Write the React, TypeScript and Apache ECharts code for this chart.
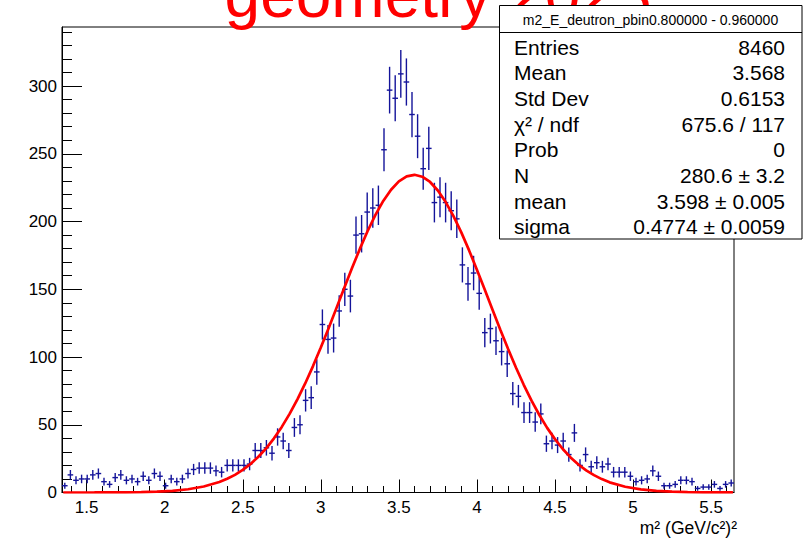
import React, { useEffect, useRef } from "react";
import * as echarts from "echarts";

// Histogram definition (120 bins)
const X_MIN = 1.342;
const X_MAX = 5.647;
const Y_MAX = 343.6;
const COUNTS = [
  5, 13, 9, 10, 10, 13, 14, 8, 6, 11,
  13, 9, 10, 8, 12, 9, 14, 12, 5, 10,
  8, 10, 14, 17, 18, 18, 18, 16, 15, 20,
  20, 20, 20, 21, 31, 31, 33, 29, 41, 38,
  31, 48, 50, 68, 70, 89, 124, 113, 114, 134,
  150, 145, 190, 191, 207, 210, 212, 253, 297, 291,
  309, 303, 279, 263, 239, 254, 214, 218, 214, 208,
  202, 168, 154, 162, 147, 118, 121, 112, 104, 95,
  73, 71, 59, 59, 52, 58, 36, 38, 35, 38,
  28, 44, 20, 28, 19, 22, 19, 21, 15, 15,
  15, 12, 8, 9, 10, 16, 12, 5, 5, 6,
  9, 9, 8, 3, 4, 4, 6, 3, 6, 7,
];
const BIN_W = (X_MAX - X_MIN) / COUNTS.length;

// Fit curve
const FIT_X = [
  1.35, 1.45, 1.55, 1.65, 1.75, 1.85, 1.95, 2.05, 2.15, 2.25,
  2.35, 2.40, 2.45, 2.50, 2.55, 2.60, 2.65, 2.70, 2.75, 2.80,
  2.85, 2.90, 2.95, 3.00, 3.05, 3.10, 3.15, 3.20, 3.25, 3.30,
  3.35, 3.40, 3.45, 3.50, 3.55, 3.60, 3.65, 3.70, 3.75, 3.80,
  3.85, 3.90, 3.95, 4.00, 4.05, 4.10, 4.15, 4.20, 4.25, 4.30,
  4.35, 4.40, 4.45, 4.50, 4.55, 4.60, 4.65, 4.70, 4.75, 4.80,
  4.85, 4.95, 5.05, 5.15, 5.25, 5.35, 5.45, 5.55, 5.64,
];
const FIT_Y = [
  0.0, 0.01, 0.02, 0.06, 0.13, 0.29, 0.61, 1.2, 2.4, 4.4,
  7.7, 10.1, 13.0, 16.7, 21.1, 26.4, 32.6, 40.0, 48.4, 58.0,
  68.8, 80.5, 93.3, 107.0, 121.3, 136.1, 151.0, 165.7, 179.8, 193.0,
  204.9, 215.2, 223.5, 229.6, 233.3, 234.5, 233.1, 229.2, 222.9, 214.4,
  204.0, 192.0, 178.7, 164.5, 149.8, 134.9, 120.2, 105.9, 92.3, 79.5,
  67.8, 57.2, 47.7, 39.4, 32.1, 25.9, 20.7, 16.3, 12.8, 9.9,
  7.5, 4.25, 2.3, 1.19, 0.59, 0.28, 0.13, 0.05, 0.02,
];

const X_MAJOR = [1.5, 2, 2.5, 3, 3.5, 4, 4.5, 5, 5.5];
const X_MINOR = [
  1.4, 1.6, 1.7, 1.8, 1.9, 2.1, 2.2, 2.3, 2.4, 2.6, 2.7, 2.8, 2.9,
  3.1, 3.2, 3.3, 3.4, 3.6, 3.7, 3.8, 3.9, 4.1, 4.2, 4.3, 4.4,
  4.6, 4.7, 4.8, 4.9, 5.1, 5.2, 5.3, 5.4, 5.6,
];
const Y_MAJOR = [0, 50, 100, 150, 200, 250, 300];
const Y_MINOR = [
  10, 20, 30, 40, 60, 70, 80, 90, 110, 120, 130, 140, 160, 170, 180, 190,
  210, 220, 230, 240, 260, 270, 280, 290, 310, 320, 330, 340,
];

const TITLE = "geometry 2023";
const HIST_NAME = "m2_E_deutron_pbin0.800000 - 0.960000";
const STATS_LABELS = ["Entries", "Mean", "Std Dev", "χ² / ndf", "Prob", "N", "mean", "sigma"];
const STATS_VALUES = ["8460", "3.568", "0.6153", "675.6 / 117", "0", "280.6 ± 3.2", "3.598 ± 0.005", "0.4774 ± 0.0059"];
const X_TITLE = "m² (GeV/c²)²";

const FONT = "Liberation Sans, Arial, Helvetica, sans-serif";
const BLUE = "#14149a";

export default function App() {
  const ref = useRef<HTMLDivElement>(null);

  useEffect(() => {
    if (!ref.current) return;
    const chart = echarts.init(ref.current, undefined, { renderer: "svg" });

    const histData = COUNTS.map((c, i) => [X_MIN + (i + 0.5) * BIN_W, c]);
    const fitData = FIT_X.map((x, i) => [x, FIT_Y[i]]);

    const rowY0 = 47;
    const rowStep = 25.7;
    const statsTexts: any[] = [];
    STATS_LABELS.forEach((lab, i) => {
      statsTexts.push({
        type: "text",
        x: 514,
        y: rowY0 + i * rowStep,
        z: 101,
        style: { text: lab, font: `21px ${FONT}`, fill: "#000", textAlign: "left", textVerticalAlign: "middle" },
      });
      statsTexts.push({
        type: "text",
        x: 785,
        y: rowY0 + i * rowStep,
        z: 101,
        style: { text: STATS_VALUES[i], font: `21px ${FONT}`, fill: "#000", textAlign: "right", textVerticalAlign: "middle" },
      });
    });

    const axisLabelStyle = { color: "#000", fontFamily: FONT, fontSize: 17 };

    chart.setOption({
      animation: false,
      backgroundColor: "#fff",
      grid: {
        left: 62,
        top: 27,
        right: 75,
        bottom: 45.5,
        show: true,
        borderColor: "#000",
        borderWidth: 1,
        containLabel: false,
      },
      xAxis: [
        {
          type: "value",
          min: X_MIN,
          max: X_MAX,
          position: "bottom",
          axisLine: { show: true, onZero: false, lineStyle: { color: "#000", width: 1 } },
          axisTick: { show: true, inside: true, length: 13, customValues: X_MAJOR, lineStyle: { color: "#000", width: 1 } },
          axisLabel: { ...axisLabelStyle, margin: 6, customValues: X_MAJOR },
          splitLine: { show: false },
        },
        {
          type: "value",
          min: X_MIN,
          max: X_MAX,
          position: "bottom",
          axisLine: { show: false, onZero: false },
          axisTick: { show: true, inside: true, length: 6.5, customValues: X_MINOR, lineStyle: { color: "#000", width: 1 } },
          axisLabel: { show: false },
          splitLine: { show: false },
        },
      ],
      yAxis: [
        {
          type: "value",
          min: 0,
          max: Y_MAX,
          position: "left",
          axisLine: { show: true, onZero: false, lineStyle: { color: "#000", width: 1 } },
          axisTick: { show: true, inside: true, length: 20, customValues: Y_MAJOR, lineStyle: { color: "#000", width: 1 } },
          axisLabel: { ...axisLabelStyle, margin: 5, customValues: Y_MAJOR },
          splitLine: { show: false },
        },
        {
          type: "value",
          min: 0,
          max: Y_MAX,
          position: "left",
          axisLine: { show: false, onZero: false },
          axisTick: { show: true, inside: true, length: 10, customValues: Y_MINOR, lineStyle: { color: "#000", width: 1 } },
          axisLabel: { show: false },
          splitLine: { show: false },
        },
      ],
      series: [
        {
          type: "custom",
          name: "hist",
          xAxisIndex: 0,
          yAxisIndex: 0,
          data: histData,
          encode: { x: 0, y: 1 },
          z: 2,
          renderItem: (params: any, api: any) => {
            const x = api.value(0);
            const y = api.value(1);
            const err = Math.sqrt(y); // Poisson error bar, as ROOT draws it
            const c = api.coord([x, y]);
            const top = api.coord([x, y + err]);
            const bot = api.coord([x, Math.max(y - err, 0)]);
            const half = api.size([BIN_W, 0])[0] / 2;
            return {
              type: "group",
              children: [
                { type: "line", shape: { x1: c[0], y1: top[1], x2: c[0], y2: bot[1] }, style: { stroke: BLUE, lineWidth: 1.4 } },
                { type: "line", shape: { x1: c[0] - half, y1: c[1], x2: c[0] + half, y2: c[1] }, style: { stroke: BLUE, lineWidth: 1.4 } },
              ],
            };
          },
        },
        {
          type: "line",
          name: "fit",
          xAxisIndex: 0,
          yAxisIndex: 0,
          data: fitData,
          showSymbol: false,
          smooth: false,
          z: 3,
          lineStyle: { color: "#ff0000", width: 2.7 },
        },
      ],
      graphic: [
        {
          type: "text",
          x: 438,
          y: -5,
          z: 99,
          style: { text: TITLE, font: `64px ${FONT}`, fill: "#ff0000", textAlign: "center", textVerticalAlign: "middle" },
        },
        {
          type: "rect",
          z: 100,
          shape: { x: 499.5, y: 5.5, width: 302.5, height: 233.5 },
          style: { fill: "#fff", stroke: "#000", lineWidth: 1 },
        },
        {
          type: "line",
          z: 101,
          shape: { x1: 499.5, y1: 32.5, x2: 802, y2: 32.5 },
          style: { stroke: "#000", lineWidth: 1 },
        },
        {
          type: "text",
          x: 650.5,
          y: 19.5,
          z: 101,
          style: { text: HIST_NAME, font: `14px ${FONT}`, fill: "#000", textAlign: "center", textVerticalAlign: "middle" },
        },
        ...statsTexts,
        {
          type: "text",
          x: 737,
          y: 527.5,
          z: 101,
          style: { text: X_TITLE, font: `17.5px ${FONT}`, fill: "#000", textAlign: "right", textVerticalAlign: "middle" },
        },
      ],
    });

    return () => chart.dispose();
  }, []);

  return <div ref={ref} style={{ position: "absolute", left: 0, top: 0, width: 809, height: 538 }} />;
}
